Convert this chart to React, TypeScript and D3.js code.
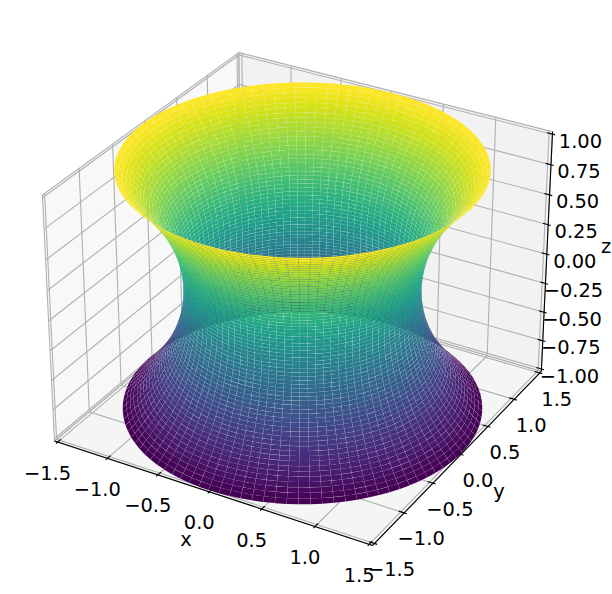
import React from "react";
import * as d3 from "d3";

const xTicks = [-1.5, -1, -0.5, 0, 0.5, 1, 1.5];
const yTicks = [-1.5, -1, -0.5, 0, 0.5, 1, 1.5];
const zTicks = [-1, -0.75, -0.5, -0.25, 0, 0.25, 0.5, 0.75, 1];
const xLabels = ["−1.5", "−1.0", "−0.5", "0.0", "0.5", "1.0", "1.5"];
const yLabels = ["−1.5", "−1.0", "−0.5", "0.0", "0.5", "1.0", "1.5"];
const zLabels = ["−1.00", "−0.75", "−0.50", "−0.25", "0.00", "0.25", "0.50", "0.75", "1.00"];
// radius of the surface at each height, from the waist outwards (one half; the other mirrors it)
const halfRadii = [
  1.000105, 1.000945, 1.002627, 1.005149, 1.008519, 1.012734, 1.0178, 1.023723, 1.030505, 1.038152,
  1.046672, 1.056072, 1.066359, 1.077542, 1.08963, 1.102633, 1.116564, 1.131432, 1.147251, 1.164032,
  1.181794, 1.200547, 1.220311, 1.241098, 1.26293, 1.285822, 1.309794, 1.334867, 1.361062, 1.3884,
  1.416906, 1.446602, 1.477513, 1.509666, 1.543081,
];
const radii = [...halfRadii.slice().reverse(), ...halfRadii];
const ROWS = radii.length;
const COLS = 100;

const W = 612, H = 594;
const CX = 302.5, CY = 287, S = 3000;
const lim = { x: [-1.5, 1.5], y: [-1.5, 1.5], z: [-1, 1] };
const BOX = [1.1905, 1.1905, 0.8929 * 1.025];
const sx = d3.scaleLinear().domain(lim.x).range([0, BOX[0]]);
const sy = d3.scaleLinear().domain(lim.y).range([0, BOX[1]]);
const sz = d3.scaleLinear().domain(lim.z).range([0, BOX[2]]);
const px = d3.scaleLinear().domain([0, 1]).range([CX, CX + S]);
const py = d3.scaleLinear().domain([0, 1]).range([CY, CY - S]);
const color = d3.scaleSequential(d3.interpolateViridis);

const el = (30 * Math.PI) / 180, az = (-60 * Math.PI) / 180, dist = 10;
const R = BOX.map((b) => b / 2);
const w = [Math.cos(el) * Math.cos(az), Math.cos(el) * Math.sin(az), Math.sin(el)];
const E = R.map((r, i) => r + dist * w[i]);
const u = [-Math.sin(az), Math.cos(az), 0];
const v = [w[1] * u[2] - w[2] * u[1], w[2] * u[0] - w[0] * u[2], w[0] * u[1] - w[1] * u[0]];
const dot = (a: number[], b: number[]) => a[0] * b[0] + a[1] * b[1] + a[2] * b[2];

function project(x: number, y: number, z: number) {
  const p = [sx(x) - E[0], sy(y) - E[1], sz(z) - E[2]];
  const d = -dot(w, p);
  return { X: px(dot(u, p) / d), Y: py(dot(v, p) / d), d };
}
type P = [number, number, number];
const pathOf = (pts: P[], close = false) =>
  d3.line()(pts.map((q) => { const r = project(...q); return [r.X, r.Y] as [number, number]; }))! + (close ? "Z" : "");

const SEAM = 0.07;
function facePath(pts: P[]) {
  const r = pts.map((q) => project(...q));
  const mx = d3.mean(r, (a) => a.X)!, my = d3.mean(r, (a) => a.Y)!;
  const shrunk = r.map((a) => {
    const l = Math.hypot(a.X - mx, a.Y - my) || 1;
    const k = Math.min(SEAM / l, 0.3);
    return [a.X + (mx - a.X) * k, a.Y + (my - a.Y) * k] as [number, number];
  });
  return d3.line()(shrunk)! + "Z";
}

const dx = 0.25, dy = 0.25;
const ex = 3 / 96, ey = 3 / 96, ez = 2 / 96;
const x0 = -1.5 - ex, x1 = 1.5 + ex;
const y0 = -1.5 - ey, y1 = 1.5 + ey;
const z0 = -1 - ez, z1 = 1 + ez;
const OUT = 0.1, IN = 0.2;

const thetas = d3.range(COLS + 1).map((i) => (i / COLS) * 2 * Math.PI);
const zRows = d3.range(ROWS).map((i) => -1 + (2 * i) / (ROWS - 1));
const faces: { d: string; depth: number; c: number }[] = [];
for (let i = 0; i < ROWS - 1; i++) {
  for (let j = 0; j < COLS; j++) {
    const q: P[] = [
      [radii[i] * Math.cos(thetas[j]), radii[i] * Math.sin(thetas[j]), zRows[i]],
      [radii[i] * Math.cos(thetas[j + 1]), radii[i] * Math.sin(thetas[j + 1]), zRows[i]],
      [radii[i + 1] * Math.cos(thetas[j + 1]), radii[i + 1] * Math.sin(thetas[j + 1]), zRows[i + 1]],
      [radii[i + 1] * Math.cos(thetas[j]), radii[i + 1] * Math.sin(thetas[j]), zRows[i + 1]],
    ];
    faces.push({
      d: facePath(q),
      depth: d3.mean(q, (p) => project(...p).d)!,
      c: (zRows[i] + zRows[i + 1]) / 2,
    });
  }
}
faces.sort((a, b) => b.depth - a.depth);
color.domain(d3.extent(faces, (f) => f.c) as [number, number]);

const GRID = "#b0b0b0";
const FONT = "'DejaVu Sans', sans-serif";
const FS = 19.44;

export default function App() {
  const lbl = (X: number, Y: number, t: string, key: string) => (
    <text key={key} x={X} y={Y} textAnchor="middle" dominantBaseline="central" fontFamily={FONT} fontSize={FS} fill="#000">{t}</text>
  );
  return (
    <svg width={W} height={H} style={{ position: "absolute", left: 0, top: 0, background: "#fff" }}>
      <path d={pathOf([[x0, y0, z0], [x0, y1, z0], [x0, y1, z1], [x0, y0, z1]], true)} fill="#f2f2f2" fillOpacity={0.5} stroke={GRID} strokeWidth={1.1} />
      <path d={pathOf([[x0, y1, z0], [x1, y1, z0], [x1, y1, z1], [x0, y1, z1]], true)} fill="#e6e6e6" fillOpacity={0.5} stroke={GRID} strokeWidth={1.1} />
      <path d={pathOf([[x0, y0, z0], [x1, y0, z0], [x1, y1, z0], [x0, y1, z0]], true)} fill="#ececec" fillOpacity={0.5} stroke={GRID} strokeWidth={1.1} />
      <g fill="none" stroke={GRID} strokeWidth={1.1}>
        {xTicks.map((t) => <path key={"gx" + t} d={pathOf([[t, y0, z0], [t, y1, z0], [t, y1, z1]])} />)}
        {yTicks.map((t) => <path key={"gy" + t} d={pathOf([[x1, t, z0], [x0, t, z0], [x0, t, z1]])} />)}
        {zTicks.map((t) => <path key={"gz" + t} d={pathOf([[x0, y0, t], [x0, y1, t], [x1, y1, t]])} />)}
      </g>
      <g fill="none" stroke="#000" strokeWidth={1.1}>
        <path d={pathOf([[x0, y0, z0], [x1, y0, z0]])} />
        <path d={pathOf([[x1, y0, z0], [x1, y1, z0]])} />
        <path d={pathOf([[x1, y1, z0], [x1, y1, z1]])} />
        {xTicks.map((t) => <path key={"tx" + t} d={pathOf([[t, y0 - OUT * dy, z0], [t, y0 + IN * dy, z0]])} />)}
        {yTicks.map((t) => <path key={"ty" + t} d={pathOf([[x1 + OUT * dx, t, z0], [x1 - IN * dx, t, z0]])} />)}
        {zTicks.map((t) => <path key={"tz" + t} d={pathOf([[x1 + OUT * dx, y1, t], [x1 - IN * dx, y1, t]])} />)}
      </g>
      {xTicks.map((t, i) => { const p = project(t, y0, z0); return lbl(p.X - 10, p.Y + 31, xLabels[i], "lx" + t); })}
      {yTicks.map((t, i) => { const p = project(x1, t, z0); return lbl(p.X + 17, p.Y + 26, yLabels[i], "ly" + t); })}
      {zTicks.map((t, i) => { const p = project(x1, y1, t); return lbl(p.X + 28, p.Y + 7, zLabels[i], "lz" + t); })}
      {lbl(186, 539, "x", "ax")}
      {lbl(499, 491, "y", "ay")}
      {lbl(606, 246, "z", "az")}
      <g>
        {faces.map((f, i) => <path key={i} d={f.d} fill={color(f.c)} />)}
      </g>
    </svg>
  );
}
